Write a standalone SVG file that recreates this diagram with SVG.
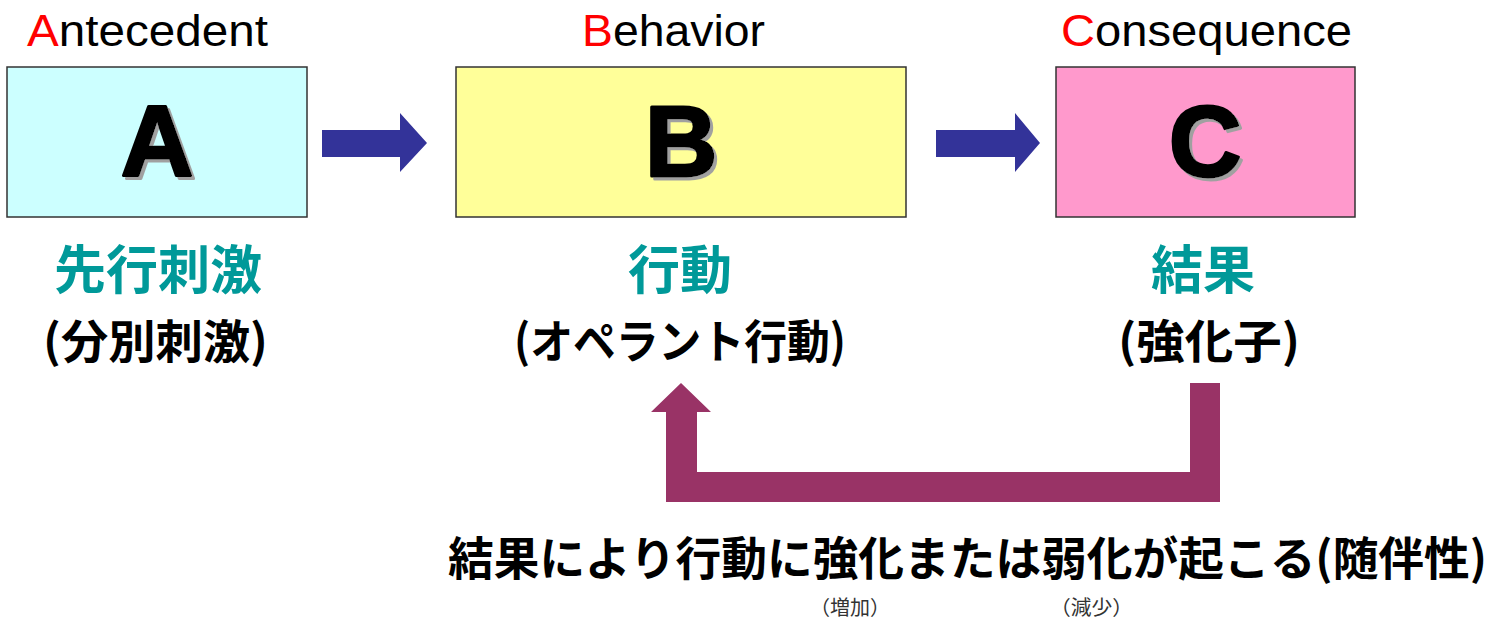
<svg xmlns="http://www.w3.org/2000/svg" width="1494" height="619" viewBox="0 0 1494 619">
<defs>
<filter id="shadow" x="-20%" y="-20%" width="150%" height="150%">
<feFlood flood-color="#a0a0a0" result="c"/>
<feComposite in="c" in2="SourceAlpha" operator="in" result="s"/>
<feOffset in="s" dx="3" dy="3" result="o"/>
<feMerge><feMergeNode in="o"/><feMergeNode in="SourceGraphic"/></feMerge>
</filter>
</defs>
<style>
.box{stroke:#333;stroke-width:1.5}
.en{font-family:"Liberation Sans",Arial,sans-serif;font-size:44px;fill:#000}
.red{fill:#ff0000}
.big{font-family:"Liberation Sans",Arial,sans-serif;font-size:100px;font-weight:bold;text-anchor:middle;stroke-width:3;stroke-linejoin:round;fill:#000;stroke:#000;filter:url(#shadow)}
.jt{font-family:"Noto Sans CJK JP","Noto Sans CJK SC",sans-serif;font-weight:bold;font-size:52px;fill:#009999;text-anchor:middle}
.jb{font-family:"Noto Sans CJK JP","Noto Sans CJK SC",sans-serif;font-weight:bold;font-size:46px;fill:#000}
.js{font-family:"Noto Sans CJK JP","Noto Sans CJK SC",sans-serif;font-size:20px;fill:#333}
.blue{fill:#333399}
.fb{fill:#993366}
</style>
<rect width="1494" height="619" fill="#fff"/>
<g id="nodeA">
<text class="en" x="27" y="46" textLength="241" lengthAdjust="spacingAndGlyphs"><tspan class="red">A</tspan>ntecedent</text>
<rect class="box" x="7" y="67" width="300" height="150" fill="#ccffff"/>
<text class="big" x="157" y="176">A</text>
<text class="jt" x="158" y="289">先行刺激</text>
<text class="jb" x="43" y="358" textLength="225" lengthAdjust="spacingAndGlyphs">(分別刺激)</text>
</g>
<g id="nodeB">
<text class="en" x="582" y="46" textLength="183" lengthAdjust="spacingAndGlyphs"><tspan class="red">B</tspan>ehavior</text>
<rect class="box" x="456" y="67" width="450" height="150" fill="#ffff99"/>
<text class="big" x="681" y="176">B</text>
<text class="jt" x="680" y="289">行動</text>
<text class="jb" x="514" y="358" textLength="332" lengthAdjust="spacingAndGlyphs">(オペラント行動)</text>
</g>
<g id="nodeC">
<text class="en" x="1061" y="46" textLength="291" lengthAdjust="spacingAndGlyphs"><tspan class="red">C</tspan>onsequence</text>
<rect class="box" x="1056" y="67" width="299" height="150" fill="#ff99cc"/>
<text class="big" x="1205" y="176">C</text>
<text class="jt" x="1203" y="289">結果</text>
<text class="jb" x="1118" y="358" textLength="182" lengthAdjust="spacingAndGlyphs">(強化子)</text>
</g>
<g id="connectors">
<polygon class="blue" points="322,130 400,130 400,113 427,143 400,172 400,157 322,157"/>
<polygon class="blue" points="936,130 1015,130 1015,113 1040,143 1015,172 1015,157 936,157"/>
<polygon class="fb" points="1190,383 1220,383 1220,502 666,502 666,412 651,412 681,383 711,412 697,412 697,472 1190,472"/>
</g>
<g id="caption">
<text class="jb" x="448" y="575" textLength="1039" lengthAdjust="spacingAndGlyphs">結果により行動に強化または弱化が起こる(随伴性)</text>
<text class="js" x="810" y="615" textLength="80" lengthAdjust="spacingAndGlyphs">（増加）</text>
<text class="js" x="1050" y="615" textLength="83" lengthAdjust="spacingAndGlyphs">（減少）</text>
</g>
</svg>
